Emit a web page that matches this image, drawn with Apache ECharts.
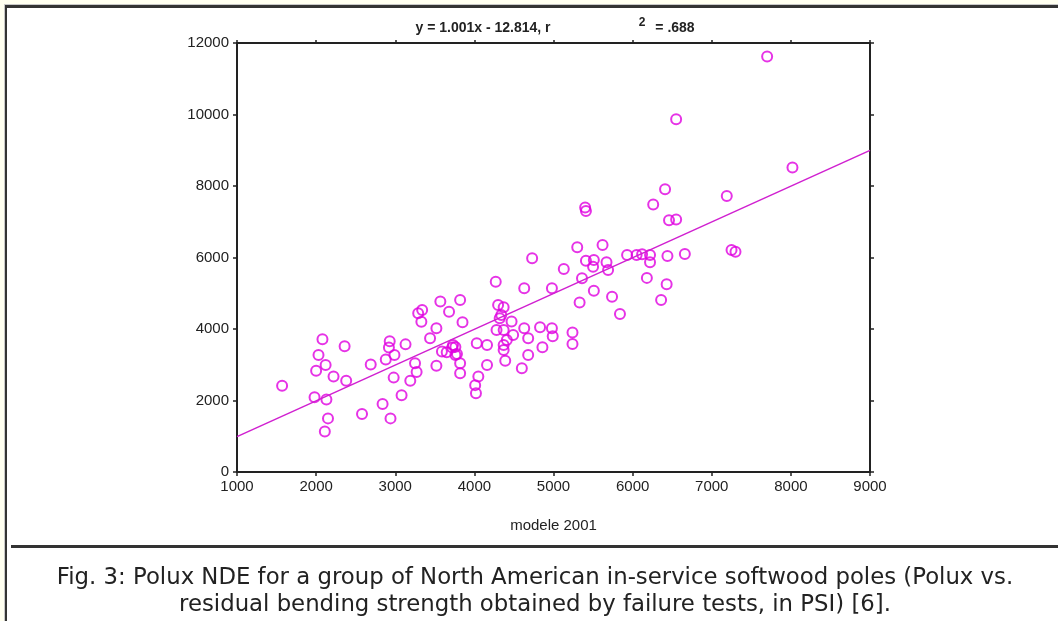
<!DOCTYPE html>
<html>
<head>
<meta charset="utf-8">
<script src="https://cdn.jsdelivr.net/npm/echarts@6/dist/echarts.min.js"></script>
<style>
html,body{margin:0;padding:0;background:#fff;}
#c{width:1058px;height:621px;}
</style>
</head>
<body>
<div id="c"></div>
<script>
// Polux (modele 2001) readings
const polux = [
1570,2080,2030,2120,2000,2220,2380,2360,1980,2130,2150,2110,2580,2840,2940,2690,2930,2920,2880,2990,
3130,2980,3250,3270,3190,3080,3520,3340,3330,3290,3570,3680,3820,3850,3440,3520,3590,3650,3720,3760,
3780,3820,3820,4010,4020,4050,4030,
5300,5620,4730,5130,5410,5510,5670,5500,5690,5930,6050,6120,6220,6220,6440,6660,6180,6430,6360,5360,
5510,5740,5840,5330,4980,4630,4270,4370,4300,4320,4470,4280,4370,4490,4630,4680,4830,4980,4990,5240,
5240,4860,4680,4390,4600,4370,4410,4160,4160,3730,3760,
7700,6550,8020,6410,6260,7190,6460,6550,7250,7300,
5400,5410,4340,4370
];
// Residual bending strength (PSI)
const strength = [
2410,3710,3270,2990,2830,2670,2550,3520,2090,2030,1500,1130,1620,1900,1500,3010,3660,3480,3150,3270,
3570,2640,3040,2800,2550,2150,2970,4530,4200,4440,4770,4480,4810,4190,3740,4020,3370,3350,3480,3500,
3300,3040,2760,2430,2200,2670,3600,
6290,6350,5980,5680,5910,5930,5870,5740,5650,6070,6070,6090,6070,5870,6040,6100,5430,5250,4810,5420,
5070,4900,4420,4740,5140,5140,5320,4610,4670,4300,4210,3970,3970,3830,4020,3740,4050,4020,3800,3900,
3580,3490,3270,3110,2900,3550,3690,3550,2990,3550,3270,
11620,9870,8520,7910,7480,7720,7040,7060,6210,6160,
7400,7300,4390,3410
];
// Regression: y = 1.001x - 12.814
const fitSlope = 1.001;
const fitIntercept = -12.814;
const fitX = [1000, 9000];

const xTicks = {min:1000, max:9000, step:1000};
const yTicks = {min:0, max:12000, step:2000};

const points = polux.map((x,i)=>[x, strength[i]]);
const fitLine = fitX.map(x=>[x, fitSlope*x + fitIntercept]);

const axisFont = 'Liberation Sans, Arial, sans-serif';
const lineStyle = {color:'#222', width:2};
const plain = v => String(v);

const chart = echarts.init(document.getElementById('c'), null, {renderer:'canvas'});
chart.setOption({
  animation:false,
  backgroundColor:'#fff',
  grid:{left:237, right:188, top:43, bottom:149, containLabel:false},
  xAxis:[
    {type:'value', position:'bottom', min:xTicks.min, max:xTicks.max, interval:xTicks.step,
     axisLine:{show:true, onZero:false, lineStyle}, axisTick:{show:true, length:4, lineStyle:{color:'#222',width:1.5}},
     splitLine:{show:false},
     axisLabel:{color:'#222', fontFamily:axisFont, fontSize:15, margin:7, formatter:plain},
     name:'modele 2001', nameLocation:'middle', nameGap:46,
     nameTextStyle:{color:'#222', fontFamily:axisFont, fontSize:15}},
    {type:'value', position:'top', min:xTicks.min, max:xTicks.max, interval:xTicks.step,
     axisLine:{show:true, onZero:false, lineStyle}, axisTick:{show:true, length:3, lineStyle:{color:'#222',width:1.5}},
     splitLine:{show:false}, axisLabel:{show:false}}
  ],
  yAxis:[
    {type:'value', position:'left', min:yTicks.min, max:yTicks.max, interval:yTicks.step,
     axisLine:{show:true, onZero:false, lineStyle}, axisTick:{show:true, length:4, lineStyle:{color:'#222',width:1.5}},
     splitLine:{show:false},
     axisLabel:{color:'#222', fontFamily:axisFont, fontSize:15, margin:8, formatter:plain}},
    {type:'value', position:'right', min:yTicks.min, max:yTicks.max, interval:yTicks.step,
     axisLine:{show:true, onZero:false, lineStyle}, axisTick:{show:true, length:4, lineStyle:{color:'#222',width:1.5}},
     splitLine:{show:false}, axisLabel:{show:false}}
  ],
  series:[
    {type:'scatter', data:points, symbol:'circle', symbolSize:10,
     itemStyle:{color:'rgba(255,255,255,0)', borderColor:'#e000e0', borderWidth:2}, z:2},
    {type:'line', data:fitLine, showSymbol:false, symbol:'none',
     lineStyle:{color:'#d020d0', width:1.5}, z:3}
  ],
  graphic:[
    {type:'rect', shape:{x:0,y:0,width:1058,height:4}, style:{fill:'#fffff0'}, silent:true},
    {type:'rect', shape:{x:0,y:0,width:4,height:621}, style:{fill:'#fffff0'}, silent:true},
    {type:'rect', shape:{x:4,y:4,width:1054,height:1}, style:{fill:'#c8c8c8'}, silent:true},
    {type:'rect', shape:{x:4,y:4,width:1,height:617}, style:{fill:'#c8c8c8'}, silent:true},
    {type:'rect', shape:{x:5,y:5,width:1053,height:3}, style:{fill:'#333'}, silent:true},
    {type:'rect', shape:{x:5,y:5,width:2,height:616}, style:{fill:'#333'}, silent:true},
    {type:'rect', shape:{x:11,y:545,width:1047,height:3}, style:{fill:'#333'}, silent:true},
    {type:'text', x:483, y:28, style:{text:'y = 1.001x - 12.814, r', fill:'#222', font:'bold 14px Liberation Sans, Arial, sans-serif', textAlign:'center', textVerticalAlign:'middle'}},
    {type:'text', x:642, y:23, style:{text:'2', fill:'#222', font:'bold 12px Liberation Sans, Arial, sans-serif', textAlign:'center', textVerticalAlign:'middle'}},
    {type:'text', x:675, y:28, style:{text:'= .688', fill:'#222', font:'bold 14px Liberation Sans, Arial, sans-serif', textAlign:'center', textVerticalAlign:'middle'}},
    {type:'text', x:535, y:578, style:{text:'Fig. 3: Polux NDE for a group of North American in-service softwood poles (Polux vs.', fill:'#222', font:'22.8px DejaVu Sans, Verdana, sans-serif', textAlign:'center', textVerticalAlign:'middle'}},
    {type:'text', x:535, y:605, style:{text:'residual bending strength obtained by failure tests, in PSI) [6].', fill:'#222', font:'22.8px DejaVu Sans, Verdana, sans-serif', textAlign:'center', textVerticalAlign:'middle'}}
  ]
});
</script>
</body>
</html>
